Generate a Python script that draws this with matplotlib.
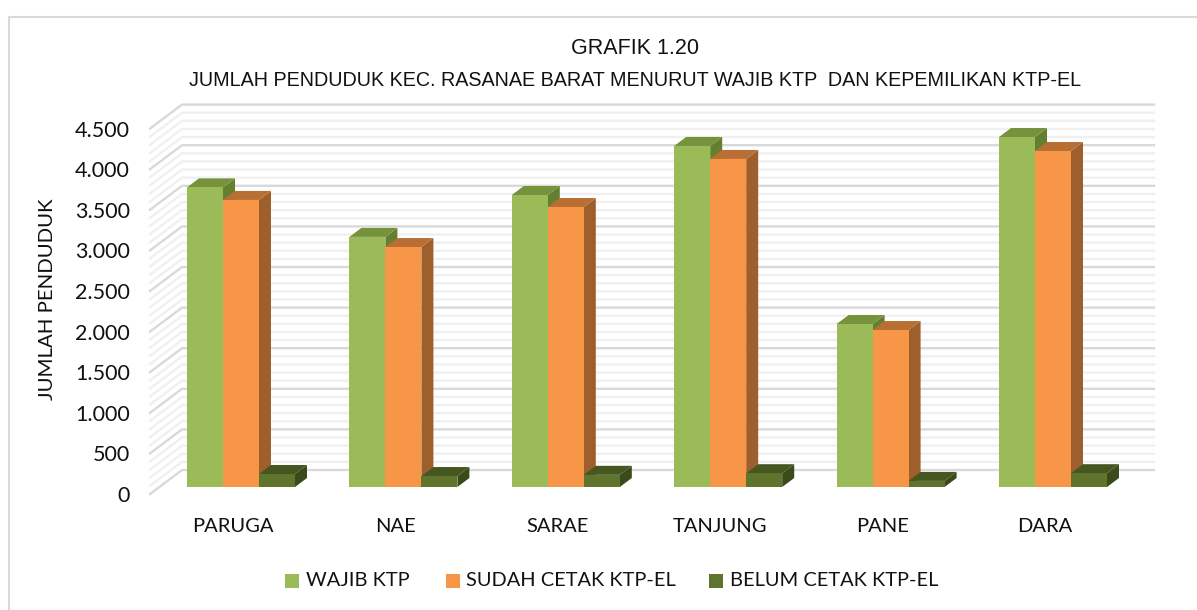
import matplotlib
matplotlib.use('Agg')
import matplotlib.pyplot as plt
from matplotlib.patches import Polygon, Rectangle

categories = ['PARUGA', 'NAE', 'SARAE', 'TANJUNG', 'PANE', 'DARA']
wajib = [3690, 3080, 3596, 4200, 2007, 4310]
sudah = [3535, 2955, 3448, 4040, 1933, 4138]
belum = [160, 135, 150, 170, 75, 170]
y_ticks = [0, 500, 1000, 1500, 2000, 2500, 3000, 3500, 4000, 4500]
y_labels = ['0', '500', '1.000', '1.500', '2.000', '2.500', '3.000', '3.500', '4.000', '4.500']

W, H = 1197, 610
plt.rcParams['font.family'] = ['Lato', 'DejaVu Sans']

fig = plt.figure(figsize=(W / 100, H / 100), dpi=100)
# x runs in pixels, y in persons, with the front of the floor at value 0
ax = fig.add_axes([0, 0, 1, 1])
ax.set_xlim(0, W)
per_px = 1000 / 81.2
base_px = 494
ax.set_ylim((base_px - H) * per_px, base_px * per_px)
ax.axis('off')


def px(n):
    return n * per_px


# only the top and left edges of the frame show
ax.plot([9, 9, W], [px(base_px - H), px(base_px - 17), px(base_px - 17)],
        color='#d9d9d9', lw=1.5, solid_joinstyle='miter', zorder=0)

# walls: back lines and the slanted lines on the left side
wall_x0, wall_x1, wall_x2 = 150, 182, 1154
wall_dy = px(24)
for v in range(0, 4501, 100):
    major = v % 500 == 0
    c = '#d9d9d9' if major else '#f0f0f0'
    z = 2 if major else 1
    ax.plot([wall_x0, wall_x1, wall_x2], [v, v + wall_dy, v + wall_dy],
            color=c, lw=1.7, zorder=z, solid_joinstyle='miter')

# bars
series = [
    (wajib, '#9bbb59', '#76923c', '#64802f'),
    (sudah, '#f79646', '#b96f33', '#9e5f2c'),
    (belum, '#5f752d', '#46561f', '#3b4a1b'),
]
bar_w = 36
group_step = 162.4
first_x = 187
depth_x = 12
depth_y = px(9)
floor_y = px(7)

for s, (vals, front, top, side) in enumerate(series):
    for i, v in enumerate(vals):
        x0 = first_x + i * group_step + s * bar_w
        x1 = x0 + bar_w
        y0 = floor_y
        y1 = floor_y + v
        z = 10 + i * 3 + s
        ax.add_patch(Polygon([(x1, y0), (x1 + depth_x, y0 + depth_y),
                              (x1 + depth_x, y1 + depth_y), (x1, y1)],
                             fc=side, ec='none', zorder=z))
        ax.add_patch(Polygon([(x0, y1), (x0 + depth_x, y1 + depth_y),
                              (x1 + depth_x, y1 + depth_y), (x1, y1)],
                             fc=top, ec='none', zorder=z))
        ax.bar(x0, v, bar_w, bottom=y0, align='edge', color=front, zorder=z + 0.5)

# tick labels
for v, lab in zip(y_ticks, y_labels):
    ax.text(130, v - px(2), lab, ha='right', va='center', fontsize=15.5, color='#111111')
for i, c in enumerate(categories):
    ax.text(first_x + i * group_step + 46, px(-33), c, ha='center', va='center',
            fontsize=14.5, color='#111111')

ax.text(48, px(195), 'JUMLAH PENDUDUK', rotation=90, ha='center', va='center',
        fontsize=14.7, color='#111111')

# titles
narrow = ['Liberation Sans']
ax.text(635, px(494 - 49), 'GRAFIK 1.20', ha='center', va='center', fontsize=15.5,
        family=narrow, color='#111111')
ax.text(635, px(494 - 80), 'JUMLAH PENDUDUK KEC. RASANAE BARAT MENURUT WAJIB KTP  DAN KEPEMILIKAN KTP-EL',
        ha='center', va='center', fontsize=14.2, family=narrow, color='#111111')

# legend
legend_items = [(285, 306, 'WAJIB KTP', series[0][1]),
                (446, 466, 'SUDAH CETAK KTP-EL', series[1][1]),
                (709, 730, 'BELUM CETAK KTP-EL', series[2][1])]
for bx, tx, lab, col in legend_items:
    ax.add_patch(Rectangle((bx, px(494 - 588)), 14, px(14), fc=col, ec='none'))
    ax.text(tx, px(494 - 581), lab, ha='left', va='center', fontsize=14.4, color='#111111')

fig.savefig('out.png', dpi=100)
